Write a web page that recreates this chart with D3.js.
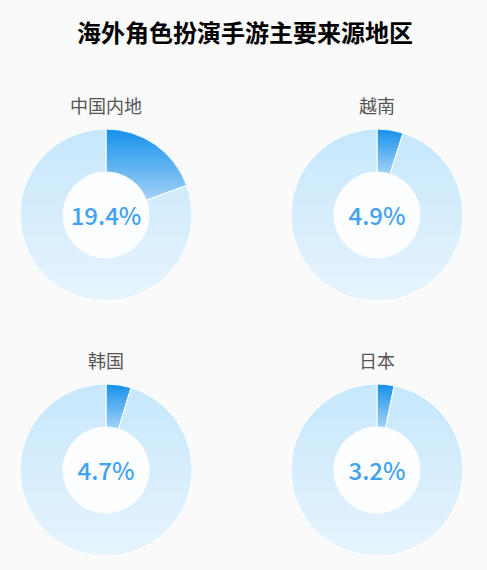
<!DOCTYPE html>
<html>
<head>
<meta charset="utf-8">
<script src="https://cdn.jsdelivr.net/npm/d3@7"></script>
<style>
  body { margin: 0; background: #fafafa; }
  text { font-family: "Noto Sans CJK SC", "Noto Sans", sans-serif; }
</style>
</head>
<body>
<svg id="chart" width="487" height="570"></svg>
<script>
var regions = ["中国内地", "越南", "韩国", "日本"];
var shares = [19.4, 4.9, 4.7, 3.2];
var title = "海外角色扮演手游主要来源地区";

var svg = d3.select("#chart");
svg.append("rect").attr("width", 487).attr("height", 570).attr("fill", "#fafafa");

var defs = svg.append("defs");
var fg = defs.append("linearGradient").attr("id", "fgGrad")
  .attr("x1", 0).attr("y1", 0).attr("x2", 0).attr("y2", 1);
fg.append("stop").attr("offset", "0%").attr("stop-color", "#1590ea");
fg.append("stop").attr("offset", "100%").attr("stop-color", "#a3d2f7");
var bg = defs.append("linearGradient").attr("id", "bgGrad")
  .attr("x1", 0).attr("y1", 0).attr("x2", 0).attr("y2", 1);
bg.append("stop").attr("offset", "0%").attr("stop-color", "#c6e7fc");
bg.append("stop").attr("offset", "100%").attr("stop-color", "#e7f4fd");

svg.append("text")
  .attr("x", 245).attr("y", 31)
  .attr("text-anchor", "middle").attr("dominant-baseline", "central")
  .attr("font-size", 24).attr("font-weight", "bold").attr("fill", "#000")
  .text(title);

// grid positions
var xPos = d3.scalePoint().domain([0, 1]).range([106, 377]);
var yPos = d3.scalePoint().domain([0, 1]).range([215, 470]);
var outerR = 86, innerR = 43;

var pie = d3.pie().sort(null).value(d => d);
var arc = d3.arc().innerRadius(innerR).outerRadius(outerR);

regions.forEach(function(name, i) {
  var g = svg.append("g")
    .attr("transform", `translate(${xPos(i % 2)}, ${yPos(Math.floor(i / 2))})`);

  g.append("text")
    .attr("y", -outerR - 24)
    .attr("text-anchor", "middle").attr("dominant-baseline", "central")
    .attr("font-size", 18).attr("fill", "#555")
    .text(name);

  g.selectAll("path")
    .data(pie([shares[i], 100 - shares[i]]))
    .enter().append("path")
    .attr("d", arc)
    .attr("fill", (d, j) => j === 0 ? "url(#fgGrad)" : "url(#bgGrad)")
    .attr("stroke", "#fff").attr("stroke-width", 1);

  g.append("circle").attr("r", innerR - 0.5).attr("fill", "#fdfeff");

  g.append("text")
    .attr("y", -1)
    .attr("text-anchor", "middle").attr("dominant-baseline", "central")
    .attr("font-size", 24).attr("font-weight", 500).attr("fill", "#42a2ef")
    .attr("font-family", "'Noto Sans', sans-serif")
    .text(shares[i].toFixed(1) + "%");
});
</script>
</body>
</html>
